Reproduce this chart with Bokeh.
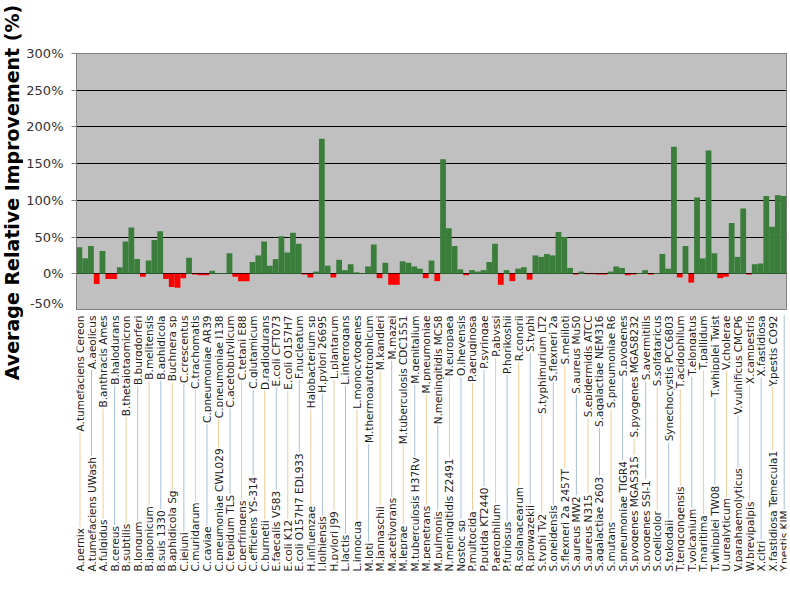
import math
from bokeh.plotting import figure
from bokeh.models import FactorRange, Range1d, FixedTicker, PrintfTickFormatter, ColumnDataSource
from bokeh.layouts import column, row
from bokeh.transform import dodge
from bokeh.core.properties import value
from bokeh.embed import file_html
from bokeh.resources import INLINE

organisms = [
    "A.pernix", "A.tumefaciens Cereon", "A.tumefaciens UWash", "A.aeolicus", "A.fulgidus",
    "B.anthracis Ames", "B.cereus", "B.halodurans", "B.subtilis", "B.thetaiotaomicron",
    "B.longum", "B.burgdorferi", "B.japonicum", "B.melitensis", "B.suis 1330",
    "B.aphidicola", "B.aphidicola Sg", "Buchnera sp", "C.jejuni", "C.crescentus",
    "C.muridarum", "C.trachomatis", "C.caviae", "C.pneumoniae AR39", "C.pneumoniae CWL029",
    "C.pneumoniae J138", "C.tepidum TLS", "C.acetobutylicum", "C.perfringens", "C.tetani E88",
    "C.efficiens YS-314", "C.glutamicum", "C.burnetii", "D.radiodurans", "E.faecalis V583",
    "E.coli CFT073", "E.coli K12", "E.coli O157H7", "E.coli O157H7 EDL933", "F.nucleatum",
    "H.influenzae", "Halobacterium sp", "I.loihiensis", "H.pylori 26695", "H.pylori J99",
    "L.plantarum", "L.lactis", "L.interrogans", "L.innocua", "L.monocytogenes",
    "M.loti", "M.thermoautotrophicum", "M.jannaschii", "M.kandleri", "M.acetivorans",
    "M.mazei", "M.leprae", "M.tuberculosis CDC1551", "M.tuberculosis H37Rv", "M.genitalium",
    "M.penetrans", "M.pneumoniae", "M.pulmonis", "N.meningitidis MC58", "N.meningitidis Z2491",
    "N.europaea", "Nostoc sp", "O.iheyensis", "P.multocida", "P.aeruginosa",
    "P.putida KT2440", "P.syringae", "P.aerophilum", "P.abyssi", "P.furiosus",
    "P.horikoshii", "R.solanacearum", "R.conorii", "R.prowazekii", "S.typhi",
    "S.typhi Ty2", "S.typhimurium LT2", "S.oneidensis", "S.flexneri 2a", "S.flexneri 2a 2457T",
    "S.meliloti", "S.aureus MW2", "S.aureus Mu50", "S.aureus N315", "S.epidermidis ATCC",
    "S.agalactiae 2603", "S.agalactiae NEM316", "S.mutans", "S.pneumoniae R6", "S.pneumoniae TIGR4",
    "S.pyogenes", "S.pyogenes MGAS315", "S.pyogenes MGAS8232", "S.pyogenes SSI-1", "S.avermitilis",
    "S.coelicolor", "S.solfataricus", "S.tokodaii", "Synechocystis PCC6803", "T.tengcongensis",
    "T.acidophilum", "T.volcanium", "T.elongatus", "T.maritima", "T.pallidum",
    "T.whipplei TW08", "T.whipplei Twist", "U.urealyticum", "V.cholerae", "V.parahaemolyticus",
    "V.vulnificus CMCP6", "W.brevipalpis", "X.campestris", "X.citri", "X.fastidiosa",
    "X.fastidiosa Temecula1", "Y.pestis CO92", "Y.pestis KIM",
]

improvement = [
    36, 21, 38, -14, 31, -7, -7, 9, 44, 63,
    20, -4, 18, 46, 58, -7, -18, -19, -6, 22,
    -1, -2, -2, 4, 1, 1, 28, -4, -10, -10,
    16, 25, 44, 11, 20, 51, 29, 56, 41, -1,
    -5, 3, 184, 11, -5, 19, 5, 13, 2, 1,
    10, 40, -6, 15, -15, -15, 17, 15, 10, 7,
    -6, 18, -10, 156, 62, 38, 6, -2, 5, 3,
    5, 16, 41, -15, 5, -10, 7, 9, -8, 25,
    23, 27, 25, 57, 50, 8, -1, 3, -0.5, -0.5,
    -1, -1, 3, 10, 8, -2, -1, 1, 5, -1,
    1, 27, 7, 173, -5, 38, -12, 104, 21, 168,
    28, -6, -4, 69, 23, 89, -1, 13, 14, 106,
    64, 107, 106,
]

y_ticks = [-50, 0, 50, 100, 150, 200, 250, 300]
y_title = "Average Relative Improvement (%)"

GREEN = "#3B7D3B"
RED = "#FF0000"
FONT = "DejaVu Sans"

TW = 23          # width of the title strip
TOTAL_H = 574
P_H = 310
LH = TOTAL_H - P_H
W = 790 - TW
RB = 4
COL = 0.1        # label column offset (in bars) from the even bar's centre

colors = [GREEN if v >= 0 else RED for v in improvement]
src = ColumnDataSource(dict(x=organisms, top=improvement, color=colors))

xr = FactorRange(*organisms, range_padding=0)

p = figure(x_range=xr, y_range=Range1d(-50, 300), width=W, height=P_H,
           output_backend="svg", toolbar_location=None,
           min_border_left=69 - TW, min_border_right=RB, min_border_top=53, min_border_bottom=0)
p.background_fill_color = "#C0C0C0"
p.border_fill_color = "white"
p.outline_line_color = "#808080"
p.outline_line_width = 1

p.vbar(x="x", top="top", bottom=0, width=1.0, fill_color="color", line_color=None, source=src)

p.xaxis.visible = False
p.xgrid.visible = False
p.ygrid.grid_line_color = "#000000"
p.ygrid.grid_line_width = 1
p.yaxis.ticker = FixedTicker(ticks=y_ticks)
p.yaxis.formatter = PrintfTickFormatter(format="%d%%")
p.yaxis.major_label_text_font = FONT
p.yaxis.major_label_text_font_size = "13px"
p.yaxis.major_label_text_color = "#333333"
p.yaxis.major_label_standoff = 8
p.yaxis.major_tick_out = 5
p.yaxis.major_tick_in = 0
p.yaxis.minor_tick_line_color = None
p.yaxis.axis_line_color = "#808080"
p.yaxis.major_tick_line_color = "#808080"

# label panel sharing the same categorical x range
q = figure(x_range=xr, y_range=Range1d(0, LH), width=W, height=LH,
           output_backend="svg", toolbar_location=None,
           min_border_left=69 - TW, min_border_right=RB, min_border_top=0, min_border_bottom=0)
q.axis.visible = False
q.grid.visible = False
q.outline_line_color = None
q.background_fill_color = "white"

even = organisms[0::2]
odd = organisms[1::2]
line_colors = ["#E39B2F" if i % 2 == 0 else "#4F81BD" for i in range(len(even))]
lsrc = ColumnDataSource(dict(x=even, c=line_colors))
q.segment(x0=dodge("x", COL, range=xr), y0=2, x1=dodge("x", COL, range=xr), y1=LH - 4,
          line_color="c", line_dash="1 1", line_width=1, source=lsrc)

esrc = ColumnDataSource(dict(x=even, t=even))
osrc = ColumnDataSource(dict(x=odd, t=odd))
common = dict(angle=math.pi / 2, text_font=value(FONT), text_font_size="10.5px",
              text_color="#222222", text_baseline="middle",
              background_fill_color="white", padding=1)
q.text(x=dodge("x", COL, range=xr), y=2, text="t", text_align="left", source=esrc, **common)
q.text(x=dodge("x", COL - 1.0, range=xr), y=LH - 4, text="t", text_align="right", source=osrc, **common)

# title strip on the left (axis title spans beyond the plot frame, as in the reference)
t = figure(x_range=Range1d(0, TW), y_range=Range1d(0, TOTAL_H), width=TW, height=TOTAL_H,
           output_backend="svg", toolbar_location=None,
           min_border_left=0, min_border_right=0, min_border_top=0, min_border_bottom=0)
t.axis.visible = False
t.grid.visible = False
t.outline_line_color = None
t.text(x=[11], y=[TOTAL_H + 8 - 200], text=[y_title], angle=math.pi / 2,
       text_font=value(FONT), text_font_style="bold", text_font_size="19px",
       text_color="#000000", text_align="center", text_baseline="middle")

layout = row(t, column(p, q, spacing=0), spacing=0)
open("out.html", "w").write(file_html(layout, INLINE))
